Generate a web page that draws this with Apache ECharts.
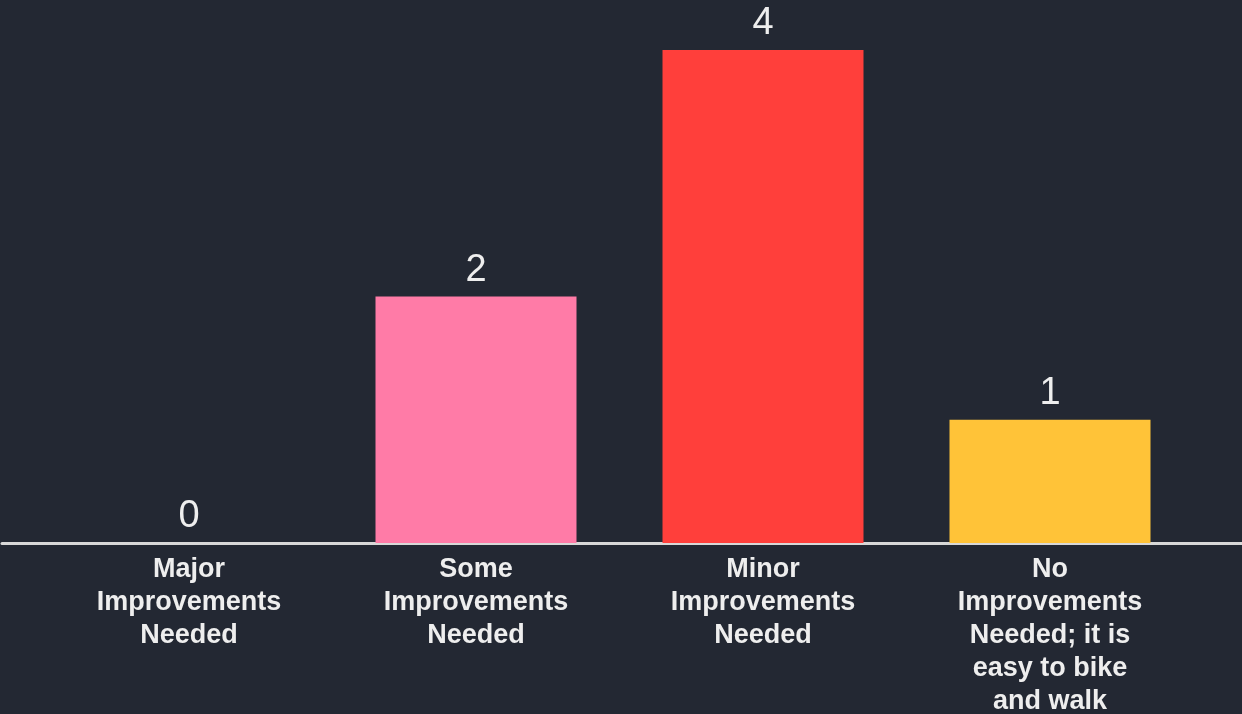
<!DOCTYPE html>
<html><head><meta charset="utf-8">
<script src="https://cdn.jsdelivr.net/npm/echarts@6/dist/echarts.min.js"></script>
<style>html,body{margin:0;padding:0;background:#232833;}#c{width:1242px;height:714px;}</style>
</head><body><div id="c"></div>
<script>
const categories = ["Major\nImprovements\nNeeded", "Some\nImprovements\nNeeded", "Minor\nImprovements\nNeeded", "No\nImprovements\nNeeded; it is\neasy to bike\nand walk"];
const values = [0, 2, 4, 1];
const colors = ["#ff7ba7", "#ff7ba7", "#ff3f3b", "#ffc338"];

const chart = echarts.init(document.getElementById('c'));
chart.setOption({
  backgroundColor: '#232833',
  animation: false,
  grid: [
    {left: 45.5, right: 48.5, top: 50, bottom: 171, containLabel: false, outerBoundsMode: 'none'},
    {left: 2, right: 0, top: 50, bottom: 171, containLabel: false, outerBoundsMode: 'none'}
  ],
  xAxis: [
    {type: 'category', data: categories, gridIndex: 0,
     axisLine: {show: false}, axisTick: {show: false},
     axisLabel: {color: '#eeeeee', fontSize: 27, fontWeight: 'bold', lineHeight: 33, margin: 10,
       fontFamily: 'Liberation Sans, Arial, sans-serif', interval: 0}},
    {type: 'value', gridIndex: 1, min: 0, max: 1,
     axisLine: {show: true, lineStyle: {color: '#d8d8d8', width: 3}},
     axisTick: {show: false}, axisLabel: {show: false}, splitLine: {show: false}}
  ],
  yAxis: [
    {type: 'value', gridIndex: 0, min: 0, max: 4, show: false, splitLine: {show: false}},
    {type: 'value', gridIndex: 1, min: 0, max: 4, show: false, splitLine: {show: false}}
  ],
  series: [{
    type: 'bar', xAxisIndex: 0, yAxisIndex: 0, barWidth: 201, z: 1,
    data: values.map((v, i) => ({value: v, itemStyle: {color: colors[i]}})),
    label: {show: true, position: 'top', distance: 7, color: '#eeeeee', fontSize: 38,
      fontFamily: 'Liberation Sans, Arial, sans-serif'}
  }]
});
</script></body></html>
